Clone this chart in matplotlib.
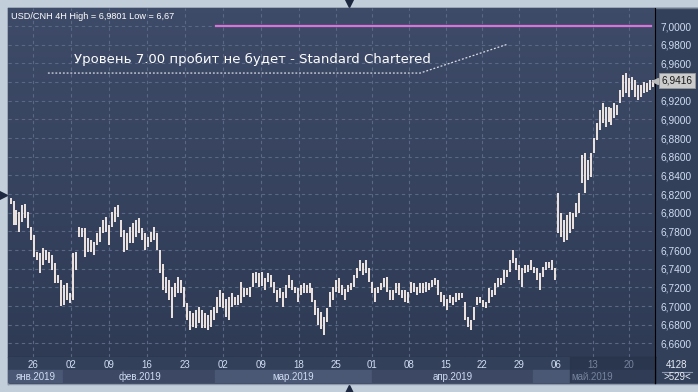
import matplotlib
matplotlib.use("Agg")
import matplotlib.pyplot as plt
import numpy as np
from matplotlib.colors import LinearSegmentedColormap

# USD/CNH 4H bars, high / low (one entry ~ every 3 px)
high = [6.816, 6.812, 6.803, 6.801, 6.808, 6.809, 6.801, 6.785, 6.776, 6.758,
        6.757, 6.762, 6.760, 6.758, 6.755, 6.746, 6.733, 6.728, 6.723, 6.725,
        6.714, 6.757, 6.758, 6.785, 6.784, 6.784, 6.773, 6.771, 6.769, 6.778,
        6.785, 6.792, 6.795, 6.787, 6.801, 6.806, 6.808,
        6.792, 6.781, 6.778, 6.785, 6.789, 6.792, 6.794, 6.784, 6.778, 6.774,
        6.779, 6.785, 6.778, 6.760, 6.745, 6.731, 6.728, 6.720, 6.725, 6.731,
        6.728, 6.720, 6.703, 6.695, 6.693, 6.696, 6.699, 6.696, 6.693, 6.690,
        6.696, 6.699, 6.710, 6.717, 6.714, 6.708, 6.710, 6.714,
        6.710, 6.712, 6.726, 6.719, 6.719, 6.720, 6.735, 6.736, 6.735, 6.736,
        6.730, 6.735, 6.733, 6.726, 6.717, 6.719, 6.715, 6.723, 6.733, 6.728,
        6.720, 6.719, 6.723, 6.725, 6.723, 6.725, 6.719, 6.707, 6.698, 6.694,
        6.688, 6.698, 6.715, 6.720, 6.728, 6.730, 6.723,
        6.718, 6.723, 6.725, 6.733, 6.741, 6.749, 6.746, 6.749, 6.741, 6.726,
        6.719, 6.720, 6.725, 6.730, 6.731, 6.717, 6.717, 6.725, 6.725, 6.717,
        6.717, 6.715, 6.726, 6.725, 6.720, 6.725, 6.725, 6.726, 6.725, 6.728,
        6.730, 6.728, 6.715, 6.712, 6.708, 6.712, 6.710,
        6.714, 6.714, 6.714, 6.704, 6.688, 6.685, 6.699, 6.710, 6.710, 6.707,
        6.704, 6.719, 6.717, 6.725, 6.730, 6.730, 6.739, 6.739, 6.749, 6.760,
        6.751, 6.744, 6.741, 6.744, 6.744, 6.749, 6.742, 6.741, 6.735, 6.742,
        6.747, 6.747, 6.749, 6.741,
        6.821, 6.800, 6.792, 6.797, 6.801, 6.800, 6.810, 6.821, 6.862, 6.864,
        6.856, 6.864, 6.880, 6.896, 6.910, 6.918, 6.913, 6.913, 6.912, 6.918,
        6.915, 6.931, 6.947, 6.950, 6.944, 6.945, 6.942, 6.937, 6.937, 6.940,
        6.939, 6.942, 6.942]
low = [6.809, 6.787, 6.787, 6.779, 6.790, 6.794, 6.784, 6.771, 6.753, 6.749,
       6.735, 6.744, 6.749, 6.746, 6.739, 6.725, 6.725, 6.700, 6.701, 6.707,
       6.703, 6.707, 6.739, 6.774, 6.774, 6.753, 6.758, 6.758, 6.755, 6.765,
       6.769, 6.778, 6.779, 6.765, 6.785, 6.790, 6.795,
       6.774, 6.758, 6.760, 6.768, 6.768, 6.774, 6.778, 6.771, 6.760, 6.763,
       6.769, 6.771, 6.760, 6.735, 6.717, 6.714, 6.707, 6.687, 6.710, 6.714,
       6.714, 6.699, 6.685, 6.674, 6.678, 6.677, 6.682, 6.677, 6.677, 6.674,
       6.678, 6.685, 6.693, 6.699, 6.698, 6.688, 6.685, 6.699,
       6.701, 6.701, 6.703, 6.710, 6.712, 6.710, 6.720, 6.725, 6.720, 6.722,
       6.717, 6.726, 6.720, 6.714, 6.704, 6.709, 6.699, 6.709, 6.719, 6.717,
       6.714, 6.704, 6.712, 6.714, 6.714, 6.714, 6.704, 6.690, 6.680, 6.675,
       6.669, 6.683, 6.699, 6.707, 6.715, 6.714, 6.712,
       6.707, 6.715, 6.717, 6.720, 6.730, 6.738, 6.733, 6.735, 6.726, 6.714,
       6.704, 6.714, 6.717, 6.720, 6.715, 6.707, 6.707, 6.714, 6.712, 6.709,
       6.704, 6.703, 6.714, 6.715, 6.712, 6.714, 6.714, 6.715, 6.717, 6.720,
       6.723, 6.712, 6.704, 6.700, 6.696, 6.703, 6.701,
       6.704, 6.707, 6.709, 6.685, 6.678, 6.674, 6.685, 6.701, 6.703, 6.699,
       6.698, 6.703, 6.710, 6.712, 6.720, 6.723, 6.725, 6.731, 6.736, 6.746,
       6.739, 6.728, 6.720, 6.735, 6.736, 6.739, 6.735, 6.728, 6.717, 6.731,
       6.739, 6.741, 6.739, 6.728,
       6.778, 6.774, 6.769, 6.771, 6.778, 6.782, 6.795, 6.800, 6.832, 6.821,
       6.835, 6.838, 6.864, 6.878, 6.889, 6.896, 6.892, 6.897, 6.894, 6.901,
       6.905, 6.918, 6.924, 6.928, 6.924, 6.931, 6.924, 6.921, 6.924, 6.928,
       6.929, 6.931, 6.935]

# week labels (positions in bar index) and month bands
week_pos = [7.5, 20.2, 32.9, 45.6, 58.4, 71.1, 83.8, 96.5, 108.9, 120.9,
            133.3, 145.7, 157.7, 170.1, 182.4, 194.8, 206.8]
week_lbl = ["26", "02", "09", "16", "23", "02", "09", "18", "25", "01",
            "08", "15", "22", "29", "06", "13", "20"]
month_lbl = ["янв.2019", "фев.2019", "мар.2019", "апр.2019", "май.2019"]
month_edge = [-0.84, 17.6, 68.4, 120.9, 174.7, 215.55]
month_mid = [8.5, 43.3, 94.5, 148.0, 194.5]
price_ticks = [6.66, 6.68, 6.70, 6.72, 6.74, 6.76, 6.78, 6.80, 6.82, 6.84,
               6.86, 6.88, 6.90, 6.92, 6.94, 6.96, 6.98, 7.00]
level = 7.00
last_price = 6.9416
header = "USD/CNH 4H High = 6,9801 Low = 6,67"
note = "Уровень 7.00 пробит не будет - Standard Chartered"

W, H = 698, 392
XL = (-0.84, 215.55)
YL = (6.6454, 7.0193)
FONT = "Liberation Sans"
LBL = "#cfdcf2"
DIM = "#76839c"


def px(l, t, r, b):
    return [l / W, 1 - b / H, (r - l) / W, (b - t) / H]


fig = plt.figure(figsize=(W / 100, H / 100), dpi=100)
fig.patch.set_facecolor("#c3cedb")

# frame / background in pixel units
bg = fig.add_axes([0, 0, 1, 1])
bg.set_xlim(0, W)
bg.set_ylim(H, 0)
bg.axis("off")
bg.add_patch(plt.Rectangle((8, 8), W - 8, 375, color="#33405a", zorder=0))
bg.plot([7.5, 7.5], [7.5, 384], color="#6b7689", lw=1)
bg.plot([7.5, W], [7.5, 7.5], color="#6b7689", lw=1)
bg.plot([7.5, W], [384, 384], color="#8e9aab", lw=1)
bg.plot([349], [2.5], marker="v", color="#1d2740", ms=6)
bg.plot([349], [389], marker="^", color="#1d2740", ms=6)
bg.plot([3], [195], marker=">", color="#1d2740", ms=6)
bg.text(677, 365, "4128", color="#e8eef8", fontsize=7, family=FONT, ha="center", va="center")
bg.plot([662, 692], [371.5, 371.5], color="#8895ad", lw=0.8)
bg.text(677, 377, ">529<", color="#e8eef8", fontsize=7, family=FONT, ha="center", va="center")

# main price panel
ax = fig.add_axes(px(8, 8, 655, 357))
ax.set_xlim(*XL)
ax.set_ylim(*YL)
grad = LinearSegmentedColormap.from_list("g", ["#2f3b55", "#3e4b68"])
ax.imshow(np.linspace(0, 1, 64).reshape(-1, 1), cmap=grad, origin="lower",
          extent=[XL[0], XL[1], YL[0], YL[1]], aspect="auto", zorder=0)

for p in price_ticks:
    ax.axhline(p, color="#5a6885", lw=0.8, ls=(0, (3, 3)), zorder=1)
for w in week_pos:
    ax.axvline(w, color="#5a6885", lw=0.8, ls=(0, (3, 3)), zorder=1)

x = np.arange(len(high))
ax.vlines(x, low, high, color="#fdf2ec", lw=1.3, zorder=3)

ax.plot([68.7, 214.2], [level, level], color="#d873d8", lw=1.6, zorder=4)

ax.plot([12.5, 137.0, 166.4], [6.9496, 6.9496, 6.9807], color="#d8dde6",
        lw=0.9, ls=(0, (1.5, 1.5)), zorder=4)
ax.text(21.2, 6.9640, note, color="white", fontsize=9.5, family="DejaVu Sans",
        va="center", ha="left", zorder=5)
ax.text(0.1, 7.0106, header, color="white", fontsize=6.6, family=FONT,
        va="center", ha="left", zorder=5)

ax.yaxis.tick_right()
ax.set_yticks(price_ticks)
# the last-price box covers the 6,9400 label
ax.set_yticklabels(["" if abs(p - 6.94) < 1e-6 else f"{p:.4f}".replace(".", ",")
                    for p in price_ticks],
                   color=LBL, fontsize=7.3, family=FONT)
ax.tick_params(axis="y", length=0, pad=4)
ax.set_xticks([])
for s in ["top", "left"]:
    ax.spines[s].set_visible(False)
ax.spines["right"].set_color("black")
ax.spines["bottom"].set_color("black")

# last price marker on the scale
ax.annotate(f"{last_price:.4f}".replace(".", ","), xy=(1.0, last_price),
            xycoords=("axes fraction", "data"), xytext=(4.5, 0),
            textcoords="offset points", va="center", ha="left",
            fontsize=7.3, family=FONT, color="#1a1a1a", zorder=6,
            annotation_clip=False,
            bbox=dict(boxstyle="square,pad=0.25", fc="#cccccc", ec="#9a9a9a", lw=0.6))
ax.plot([XL[1]], [last_price], marker="<", color="#bbbbbb", ms=4, clip_on=False, zorder=6)

# date axis
dax = fig.add_axes(px(8, 357, 655, 383))
dax.set_xlim(*XL)
dax.set_ylim(0, 2)
dax.axis("off")
dax.axhspan(1, 2, color="#33405a")
band_col = ["#4b5875", "#3c4864", "#4b5875", "#3c4864", "#4b5875"]
for i in range(len(month_lbl)):
    dax.axvspan(month_edge[i], month_edge[i + 1], ymin=0, ymax=0.5, color=band_col[i])
dax.axvspan(187.1, XL[1], color="#28334b", alpha=0.75, zorder=3)
for w, lb in zip(week_pos, week_lbl):
    dax.text(w, 1.35, lb, color=DIM if w > 187 else LBL, fontsize=7, family=FONT,
             ha="center", va="center", zorder=4)
for m, lb in zip(month_mid, month_lbl):
    dax.text(m, 0.5, lb, color=DIM if m > 187 else LBL, fontsize=7, family=FONT,
             ha="center", va="center", zorder=4)
dax.plot([XL[1], XL[1]], [0, 2], color="black", lw=1, clip_on=False)

fig.savefig("out.png", dpi=100, facecolor=fig.get_facecolor())
